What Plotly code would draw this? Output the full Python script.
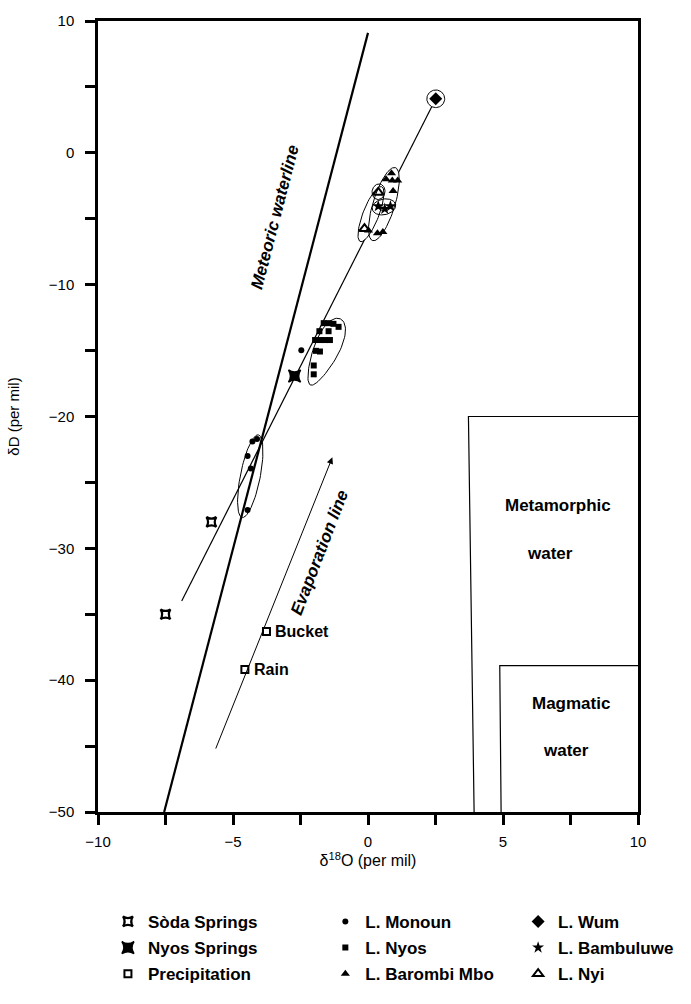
import numpy as np
import plotly.graph_objects as go

# ---------------- data ----------------
soda_x = [-5.8, -7.5]
soda_y = [-28.0, -35.0]
nyos_spr_x = [-2.72]
nyos_spr_y = [-16.93]
precip_x = [-3.76, -4.56]
precip_y = [-36.3, -39.2]
precip_labels = ["Bucket", "Rain"]
monoun_x = [-4.11, -4.28, -4.46, -4.34, -4.46, -2.47]
monoun_y = [-21.7, -21.9, -23.0, -23.95, -27.1, -14.97]
nyos_x = [-1.64, -1.46, -1.28, -1.09, -1.80, -1.46, -1.96, -1.76, -1.59, -1.41, -1.93, -1.78, -2.01, -2.01]
nyos_y = [-12.92, -12.92, -12.97, -13.2, -13.53, -13.53, -14.2, -14.2, -14.2, -14.2, -15.02, -15.07, -16.13, -16.8]
barombi_x = [0.87, 0.67, 0.90, 1.10, 0.93, 0.02, 0.35, 0.55]
barombi_y = [-1.55, -2.0, -2.1, -2.1, -2.9, -5.9, -6.1, -6.0]
wum_x = [2.51]
wum_y = [4.1]
bambuluwe_x = [0.38, 0.62, 0.83]
bambuluwe_y = [-4.05, -4.25, -4.05]
nyi_x = [0.38, -0.13]
nyi_y = [-3.0, -5.75]

# reference lines / fields
meteoric_x = [-7.55, 0.0]
meteoric_y = [-50.0, 9.1]
trend_x = [-6.9, 2.51]
trend_y = [-34.0, 4.1]
evap_start = (-5.66, -45.3)
evap_end = (-1.32, -23.1)
metamorphic_x = [3.93, 3.72, 10.0]
metamorphic_y = [-50.0, -20.0, -20.0]
magmatic_x = [4.93, 4.88, 10.0]
magmatic_y = [-50.0, -38.9, -38.9]

x_tickvals = [-10, -7.5, -5, -2.5, 0, 2.5, 5, 7.5, 10]
x_ticktext = ["\u221210", "", "\u22125", "", "0", "", "5", "", "10"]
y_tickvals = [-50, -45, -40, -35, -30, -25, -20, -15, -10, -5, 0, 5, 10]
y_ticktext = ["\u221250", "", "\u221240", "", "\u221230", "", "\u221220", "", "\u221210", "", "0", "", "10"]

# ---------------- layout geometry ----------------
W, H = 691, 1004
ML, MR, MT, MB = 97, 50, 19, 177
PW, PH = W - ML - MR, H - MT - MB
XR, YR = (-10, 10), (-50, 10)
PPX = PW / (XR[1] - XR[0])
PPY = PH / (YR[1] - YR[0])

FONT = "Liberation Sans, Arial, Helvetica, sans-serif"


def envelope(cx, cy, a, b, ang, egg=0.0, n=80):
    t = np.linspace(0, 2 * np.pi, n)
    th = np.deg2rad(ang)
    bb = b * (1 + egg * np.cos(t))
    dx = a * np.cos(t) * np.cos(th) - bb * np.sin(t) * np.sin(th)
    dy = a * np.cos(t) * np.sin(th) + bb * np.sin(t) * np.cos(th)
    return cx + dx / PPX, cy + dy / PPY


# cluster envelopes: (center x, center y, semi-axis px, semi-axis px, angle, egg, white fill)
envelopes = [
    (-4.36, -24.53, 43, 10, 79, 0.0, False),   # Monoun
    (-1.58, -15.1, 37, 12.5, 66, 0.25, True),  # Nyos
    (0.59, -3.89, 39, 11, 73, 0.0, True),      # Barombi Mbo
    (0.11, -4.65, 30, 8, 69, 0.0, True),       # Nyi
    (0.59, -4.1, 12, 8, 12, 0.0, True),        # Bambuluwe
    (0.39, -2.95, 8, 6.5, 80, 0.0, True),      # Nyi top
    (wum_x[0], wum_y[0], 9, 9, 0, 0.0, True),  # Wum
]

fig = go.Figure()

# fields
for bx, by in [(metamorphic_x, metamorphic_y), (magmatic_x, magmatic_y)]:
    fig.add_trace(go.Scatter(x=bx, y=by, mode="lines", line=dict(color="black", width=1.2),
                             showlegend=False, hoverinfo="skip"))

# meteoric water line
fig.add_trace(go.Scatter(x=meteoric_x, y=meteoric_y, mode="lines", line=dict(color="black", width=2.2),
                         showlegend=False, hoverinfo="skip"))
# trend line through springs and lakes
fig.add_trace(go.Scatter(x=trend_x, y=trend_y, mode="lines", line=dict(color="black", width=1.2),
                         showlegend=False, hoverinfo="skip"))

# envelope fills
for cx, cy, a, b, ang, egg, filled in envelopes:
    if filled:
        ex, ey = envelope(cx, cy, a, b, ang, egg)
        fig.add_trace(go.Scatter(x=ex, y=ey, mode="lines", fill="toself", fillcolor="white",
                                 line=dict(width=0, color="white"), showlegend=False, hoverinfo="skip"))
# envelope outlines
for cx, cy, a, b, ang, egg, filled in envelopes:
    ex, ey = envelope(cx, cy, a, b, ang, egg)
    fig.add_trace(go.Scatter(x=ex, y=ey, mode="lines", line=dict(width=1, color="black"),
                             showlegend=False, hoverinfo="skip"))

series = [
    ("S\u00f2da Springs", soda_x, soda_y, dict(symbol="star-square-open", size=9, color="black", line=dict(width=2.2, color="black")), "legend"),
    ("Nyos Springs", nyos_spr_x, nyos_spr_y, dict(symbol="star-square", size=11, color="black", line=dict(width=1.5, color="black")), "legend"),
    ("Precipitation", precip_x, precip_y, dict(symbol="square-open", size=7, color="black", line=dict(width=2, color="black")), "legend"),
    ("L. Monoun", monoun_x, monoun_y, dict(symbol="circle", size=6, color="black"), "legend2"),
    ("L. Nyos", nyos_x, nyos_y, dict(symbol="square", size=6, color="black"), "legend2"),
    ("L. Barombi Mbo", barombi_x, barombi_y, dict(symbol="triangle-up", size=8, color="black"), "legend2"),
    ("L. Wum", wum_x, wum_y, dict(symbol="diamond", size=10, color="black"), "legend3"),
    ("L. Bambuluwe", bambuluwe_x, bambuluwe_y, dict(symbol="star", size=9, color="black"), "legend3"),
    ("L. Nyi", nyi_x, nyi_y, dict(symbol="triangle-up-open", size=9, color="black", line=dict(width=2, color="black")), "legend3"),
]
for name, sx, sy, mk, lg in series:
    fig.add_trace(go.Scatter(x=sx, y=sy, mode="markers", name=name, marker=mk, legend=lg,
                             legendgroup=name))

ANN = 17
annotations = []
# precipitation labels
for px_, py_, lab in zip(precip_x, precip_y, precip_labels):
    annotations.append(dict(x=px_, y=py_, text=lab, showarrow=False, xanchor="left", xshift=7,
                            font=dict(family=FONT, size=16, color="black", weight="bold")))
# evaporation arrow
annotations.append(dict(x=evap_end[0], y=evap_end[1], ax=evap_start[0], ay=evap_start[1],
                        xref="x", yref="y", axref="x", ayref="y", text="", showarrow=True,
                        arrowhead=2, arrowsize=1.3, arrowwidth=1, arrowcolor="black"))
annotations.append(dict(x=-1.8, y=-30.3, text="Evaporation line", showarrow=False, textangle=-69,
                        font=dict(family=FONT, size=ANN, color="black", weight="bold", style="italic")))
annotations.append(dict(x=-3.45, y=-4.9, text="Meteoric waterline", showarrow=False, textangle=-75.5,
                        font=dict(family=FONT, size=ANN, color="black", weight="bold", style="italic")))
for tx, ty, tt in [(7.02, -26.75, "Metamorphic"), (6.73, -30.4, "water"),
                   (7.5, -41.75, "Magmatic"), (7.32, -45.3, "water")]:
    annotations.append(dict(x=tx, y=ty, text=tt, showarrow=False,
                            font=dict(family=FONT, size=ANN, color="black", weight="bold")))

LEG_Y = -0.1162
leg_common = dict(orientation="v", y=LEG_Y, yanchor="top", xanchor="left", tracegroupgap=1,
                  font=dict(family=FONT, size=17, color="black", weight="bold"),
                  bgcolor="rgba(0,0,0,0)")

fig.update_layout(
    width=W, height=H, autosize=False,
    margin=dict(l=ML, r=MR, t=MT, b=MB),
    paper_bgcolor="white", plot_bgcolor="white",
    font=dict(family=FONT, color="black", size=14),
    annotations=annotations,
    legend=dict(x=0.0184, **leg_common),
    legend2=dict(x=0.421, **leg_common),
    legend3=dict(x=0.778, **leg_common),
    xaxis=dict(range=list(XR), showgrid=False, zeroline=False, showline=True, linecolor="black",
               linewidth=2.5, mirror=True, ticks="outside", ticklen=10, tickwidth=2.5, tickcolor="black",
               tickmode="array", tickvals=x_tickvals, ticktext=x_ticktext, ticklabelstandoff=4,
               tickfont=dict(size=15),
               title=dict(text="\u03b4<sup>18</sup>O (per mil)", font=dict(size=16), standoff=2)),
    yaxis=dict(range=list(YR), showgrid=False, zeroline=False, showline=True, linecolor="black",
               linewidth=2.5, mirror=True, ticks="outside", ticklen=10, tickwidth=2.5, tickcolor="black",
               tickmode="array", tickvals=y_tickvals, ticktext=y_ticktext, ticklabelstandoff=8,
               tickfont=dict(size=15),
               title=dict(text="\u03b4D (per mil)", font=dict(size=15), standoff=26)),
)

fig.write_html("out.html", config={"displayModeBar": False},
               post_script="document.body.style.margin='0px';document.body.style.overflow='hidden';")
